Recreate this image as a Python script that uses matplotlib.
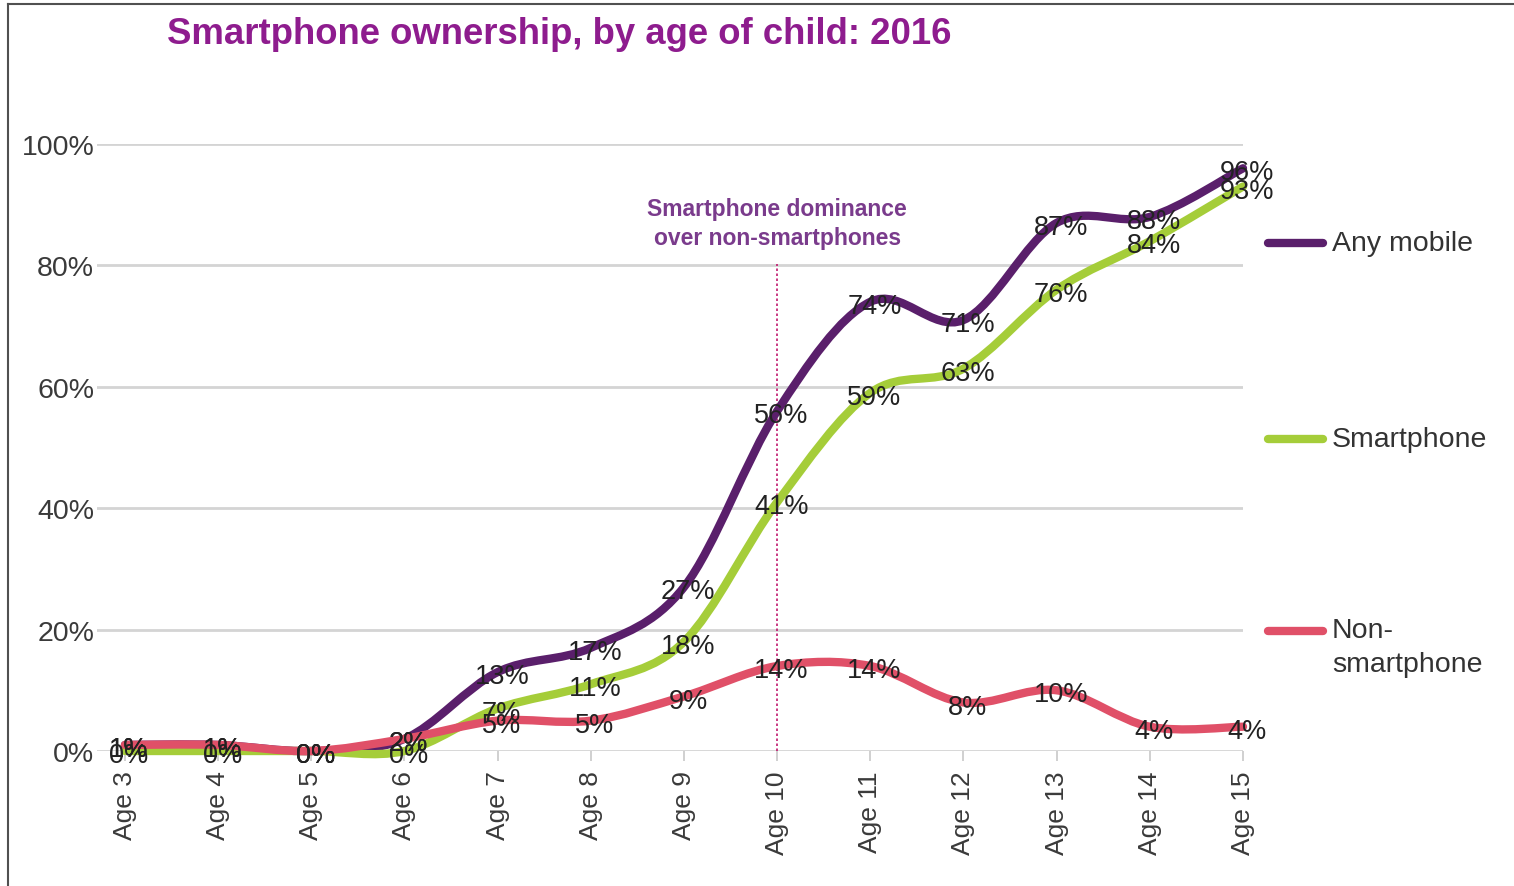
import matplotlib.pyplot as plt
import numpy as np
from matplotlib.path import Path
from matplotlib.patches import PathPatch
from matplotlib.lines import Line2D

plt.rcParams['font.family'] = ['Liberation Sans', 'DejaVu Sans']

ages = ['Age 3', 'Age 4', 'Age 5', 'Age 6', 'Age 7', 'Age 8', 'Age 9',
        'Age 10', 'Age 11', 'Age 12', 'Age 13', 'Age 14', 'Age 15']
any_mobile = [1, 1, 0, 2, 13, 17, 27, 56, 74, 71, 87, 88, 96]
smartphone = [0, 0, 0, 0, 7, 11, 18, 41, 59, 63, 76, 84, 93]
non_smartphone = [1, 1, 0, 2, 5, 5, 9, 14, 14, 8, 10, 4, 4]
series_names = ['Any mobile', 'Smartphone', 'Non-\nsmartphone']
colors = ['#5a1f6b', '#a5cd39', '#e05068']


def smooth_path(x, y, k=1 / 6):
    # Excel-style smoothed line: cubic bezier through every point
    x = np.asarray(x, float)
    y = np.asarray(y, float)
    px = np.concatenate([[x[0]], x, [x[-1]]])
    py = np.concatenate([[y[0]], y, [y[-1]]])
    verts = [(x[0], y[0])]
    codes = [Path.MOVETO]
    for i in range(len(x) - 1):
        c1 = (px[i + 1] + (px[i + 2] - px[i]) * k, py[i + 1] + (py[i + 2] - py[i]) * k)
        c2 = (px[i + 2] - (px[i + 3] - px[i + 1]) * k, py[i + 2] - (py[i + 3] - py[i + 1]) * k)
        verts += [c1, c2, (x[i + 1], y[i + 1])]
        codes += [Path.CURVE4] * 3
    return Path(verts, codes)


fig = plt.figure(figsize=(15.14, 8.87), dpi=100)
ax = fig.add_axes([97 / 1514, 1 - 752 / 887, (1243 - 97) / 1514, (752 - 145) / 887])

xs = np.arange(len(ages))
ax.set_xlim(-0.3, len(ages) - 1)
ax.set_ylim(0, 100)

for spine in ax.spines.values():
    spine.set_visible(False)
ax.set_yticks(np.arange(0, 101, 20))
ax.set_yticklabels(['%d%%' % v for v in range(0, 101, 20)], fontsize=20.5, color='#3a3a3a')
ax.yaxis.grid(True, color='#d4d4d4', linewidth=2)
ax.tick_params(axis='y', length=0, pad=2)
ax.set_xticks(xs)
ax.set_xticklabels(ages, rotation=90, fontsize=19, color='#3a3a3a')
ax.tick_params(axis='x', length=7, width=1.2, color='#c8c8c8', pad=7)
ax.set_axisbelow(True)

# dominance marker
ax.plot([7, 7], [0, 80.2], linestyle=(0, (1.5, 1.5)), color='#c0166e', linewidth=1.2, zorder=1)
ax.text(7, 87, 'Smartphone dominance\nover non-smartphones', ha='center', va='center',
        fontsize=16.5, fontweight='bold', color='#7a3b8c', linespacing=1.3)

all_series = [any_mobile, smartphone, non_smartphone]
for vals, col in zip(all_series, colors):
    ax.add_patch(PathPatch(smooth_path(xs, vals), facecolor='none', edgecolor=col,
                           linewidth=6, capstyle='round', joinstyle='round',
                           clip_on=False, zorder=3))
for vals in all_series:
    for xi, v in zip(xs, vals):
        ax.annotate('%d%%' % v, (xi, v), xytext=(3, -3), textcoords='offset points',
                    ha='center', va='center', fontsize=19.5, color='#222222', zorder=5)

# legend at right
leg_y = [244, 440, 632]
for name, col, yp in zip(series_names, colors, leg_y):
    fy = 1 - yp / 887
    fig.add_artist(Line2D([1268 / 1514, 1323 / 1514], [fy, fy], color=col, linewidth=6,
                          solid_capstyle='round'))
    if '\n' in name:
        fig.text(1332 / 1514, fy + 14 / 887, name, ha='left', va='top', fontsize=20.5,
                 color='#333333', linespacing=1.4)
    else:
        fig.text(1332 / 1514, fy, name, ha='left', va='center', fontsize=20.5,
                 color='#333333')

fig.text(167 / 1514, 1 - 34 / 887, 'Smartphone ownership, by age of child: 2016',
         ha='left', va='center', fontsize=26.3, fontweight='bold', color='#8e1c8e')

# screenshot frame
fig.add_artist(Line2D([8 / 1514, 8 / 1514], [0, 1 - 5 / 887], color='#505050', linewidth=1.5))
fig.add_artist(Line2D([8 / 1514, 1], [1 - 5 / 887, 1 - 5 / 887], color='#505050', linewidth=1.5))

fig.savefig('out.png', dpi=100)
